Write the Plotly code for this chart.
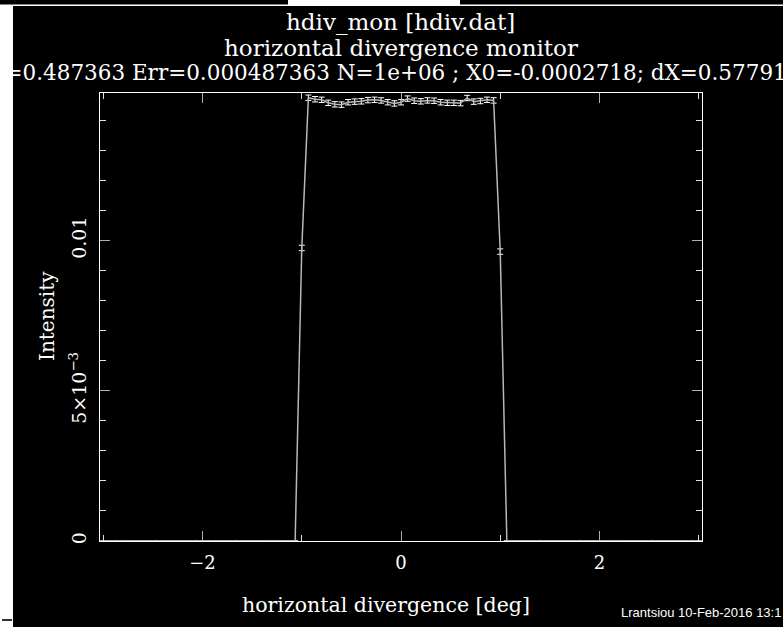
import plotly.graph_objects as go

# ---- data ----
bin_lo, bin_hi, n_bins = -3.0, 3.0, 91          # bin centres of the monitor
x_vals = [bin_lo + i * (bin_hi - bin_lo) / (n_bins - 1) for i in range(n_bins)]

core_vals = [0.00975,
             0.01475, 0.01470, 0.01468, 0.01458, 0.01453, 0.01452, 0.01460,
             0.01462, 0.01463, 0.01467, 0.01468, 0.01466, 0.01460, 0.01456,
             0.01460,
             0.01472, 0.01465, 0.01463, 0.01466, 0.01465, 0.01460, 0.01458,
             0.01458, 0.01457, 0.01474, 0.01462, 0.01464, 0.01468, 0.01466,
             0.00963]
core_errs = [0.00009] * len(core_vals)
zeros = [0.0] * 30
intensity = zeros + core_vals + zeros
errors = [float("nan")] * 30 + core_errs + [float("nan")] * 30

x_tickvals = [-2, 0, 2]
y_tickvals = [0, 0.005, 0.01]
y_ticktext = ["0", "5×10<sup>−3</sup>", "0.01"]

title1 = "hdiv_mon [hdiv.dat]"
title2 = "horizontal divergence monitor"
title3 = "I=0.487363 Err=0.000487363 N=1e+06 ; X0=-0.0002718; dX=0.577913"
xlabel = "horizontal divergence [deg]"
ylabel = "Intensity"
credit = "Lrantsiou 10-Feb-2016 13:1"

# ---- geometry ----
W, H = 783, 627
L, R, T, B = 100, 702, 93, 541


def fx(px):
    return (px - L) / (R - L)


def fy(py):
    return (B - py) / (B - T)


SERIF = "DejaVu Serif"

fig = go.Figure()
fig.add_trace(go.Scatter(
    x=x_vals, y=intensity, mode="lines",
    line=dict(color="#b8b8b8", width=1.5),
    error_y=dict(type="data", array=errors, visible=True,
                 color="#ffffff", thickness=1, width=3),
    showlegend=False, hoverinfo="skip",
))

axis_common = dict(
    showgrid=False, zeroline=False, showline=True, linecolor="#ffffff", linewidth=1,
    mirror="allticks", ticks="inside", tickcolor="#b0b0b0", ticklen=10, tickwidth=1,
)

fig.update_layout(
    width=W, height=H,
    margin=dict(l=L, r=W - R, t=T, b=H - B, pad=0),
    paper_bgcolor="#000000", plot_bgcolor="#000000",
    xaxis=dict(range=[-3.0333, 3.0333], tickvals=x_tickvals, ticklabelstandoff=5,
               tickfont=dict(family=SERIF, size=18, color="#ffffff"),
               minor=dict(dtick=1, ticklen=6, tickcolor="#e0e0e0", ticks="inside"),
               **axis_common),
    yaxis=dict(range=[0, 0.014907], tickvals=y_tickvals, ticktext=y_ticktext,
               tickangle=-90, ticklabelstandoff=5,
               tickfont=dict(family=SERIF, size=19, color="#ffffff"),
               minor=dict(dtick=0.001, ticklen=6, tickcolor="#e0e0e0", ticks="inside"),
               **axis_common),
)

shapes = [
    # white top middle strip
    dict(type="rect", xref="paper", yref="paper", x0=fx(288), x1=fx(460), y0=fy(0), y1=fy(5),
         fillcolor="#ffffff", line=dict(width=0), layer="below"),
    # thin white line across the top
    dict(type="rect", xref="paper", yref="paper", x0=fx(0), x1=fx(W), y0=fy(4.5), y1=fy(6),
         fillcolor="#ffffff", line=dict(width=0), layer="below"),
    # white strip at the left edge
    dict(type="rect", xref="paper", yref="paper", x0=fx(0), x1=fx(13), y0=fy(5), y1=fy(H),
         fillcolor="#ffffff", line=dict(width=0), layer="below"),
    # small dash at bottom left
    dict(type="line", xref="paper", yref="paper", x0=fx(2), x1=fx(12), y0=fy(620), y1=fy(620),
         line=dict(color="#333333", width=2), layer="below"),
]
fig.update_layout(shapes=shapes)

ann = [
    dict(text=title1, x=fx(400), y=fy(22), size=23),
    dict(text=title2, x=fx(401), y=fy(48), size=23),
    dict(text=title3, x=fx(397.5), y=fy(73), size=21.5),
    dict(text=xlabel, x=fx(386), y=fy(605), size=20.5),
]
for a in ann:
    fig.add_annotation(text=a["text"], xref="paper", yref="paper", x=a["x"], y=a["y"],
                       xanchor="center", yanchor="middle", showarrow=False,
                       font=dict(family=SERIF, size=a["size"], color="#ffffff"))
fig.add_annotation(text=ylabel, xref="paper", yref="paper", x=fx(47), y=fy(316),
                   xanchor="center", yanchor="middle", showarrow=False, textangle=-90,
                   font=dict(family=SERIF, size=20, color="#ffffff"))
fig.add_annotation(text=credit, xref="paper", yref="paper", x=fx(619), y=fy(612),
                   xanchor="left", yanchor="middle", showarrow=False,
                   font=dict(family="Liberation Sans", size=13, color="#ffffff"))

fig.write_html("out.html",
               config={"displayModeBar": False},
               post_script="document.body.style.margin='0';"
                           "document.documentElement.style.overflow='hidden';")
